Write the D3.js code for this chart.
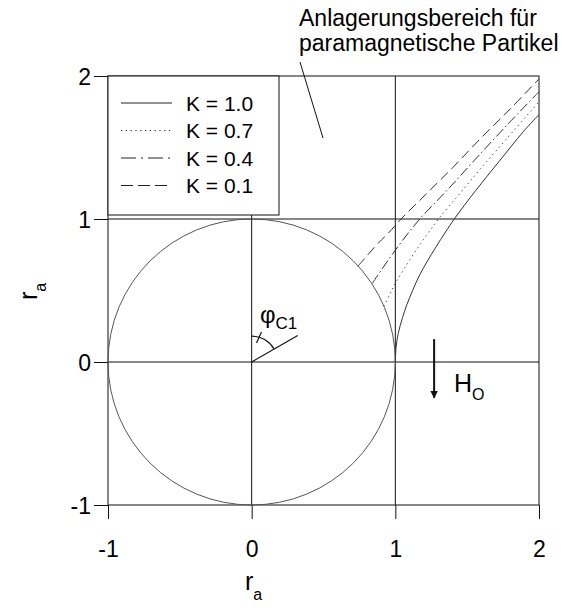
<!DOCTYPE html>
<html>
<head>
<meta charset="utf-8">
<script src="https://cdn.jsdelivr.net/npm/d3@7"></script>
<style>
  html, body { margin: 0; padding: 0; background: #fff; }
  svg { display: block; font-family: Arial, "Liberation Sans", Helvetica, sans-serif; }
</style>
</head>
<body>
<svg id="chart" width="562" height="612"></svg>
<script>
// Boundary curves of the attachment zone for several values of K
const seriesNames = ["K = 1.0", "K = 0.7", "K = 0.4", "K = 0.1"];

const curveK10 = [
  [1.00, 0.00], [1.005, 0.10], [1.02, 0.20], [1.05, 0.31], [1.08, 0.40], [1.12, 0.50],
  [1.17, 0.61], [1.22, 0.70], [1.28, 0.80], [1.35, 0.91], [1.41, 1.00], [1.56, 1.20],
  [1.72, 1.40], [1.89, 1.61], [2.00, 1.73]
];
const curveK07 = [
  [0.92, 0.39], [0.96, 0.47], [1.00, 0.55], [1.06, 0.65], [1.13, 0.76], [1.22, 0.89],
  [1.30, 1.00], [1.45, 1.18], [1.60, 1.36], [1.80, 1.59], [2.00, 1.82]
];
const curveK04 = [
  [0.84, 0.55], [0.90, 0.64], [0.97, 0.74], [1.05, 0.85], [1.17, 1.00], [1.35, 1.19],
  [1.55, 1.41], [1.78, 1.66], [2.00, 1.89]
];
const curveK01 = [
  [0.74, 0.67], [0.80, 0.74], [0.88, 0.83], [0.95, 0.90], [1.04, 1.00], [1.20, 1.16],
  [1.40, 1.36], [1.60, 1.57], [1.80, 1.77], [2.00, 1.98]
];
const curves = [curveK10, curveK07, curveK04, curveK01];
const dashes = [null, "1.2,3.6", "10,3,1.5,3", "10,5"];
const legendDashes = [null, "1.2,3.6", "15,5,2,5", "12,5"];

// Wire cross-section (unit radius) and reference grid
const wireRadius = 1;
const xTicks = [-1, 0, 1, 2];
const yTicks = [-1, 0, 1, 2];
const gridX = [0, 1];
const gridY = [0, 1];
const phiAngleDeg = 60;   // measured from the field axis

const svg = d3.select("#chart");
const pLeft = 108, pRight = 539, pTop = 76, pBottom = 505;

const x = d3.scaleLinear().domain([-1, 2]).range([pLeft, pRight]);
const y = d3.scaleLinear().domain([-1, 2]).range([pBottom, pTop]);

const ink = "#111";

// Axes with outward ticks
const xAxis = d3.axisBottom(x).tickValues(xTicks).tickSize(14).tickPadding(5)
  .tickFormat(d3.format("d"));
const yAxis = d3.axisLeft(y).tickValues(yTicks).tickSize(14).tickPadding(5)
  .tickFormat(d3.format("d"));

const gx = svg.append("g").attr("transform", `translate(0,${pBottom})`).call(xAxis);
const gy = svg.append("g").attr("transform", `translate(${pLeft},0)`).call(yAxis);
[gx, gy].forEach(g => {
  g.select(".domain").remove();
  g.selectAll(".tick line").attr("stroke", ink).attr("stroke-width", 1);
  g.selectAll(".tick text").attr("fill", "#000").attr("font-size", 23)
    .attr("font-family", "Arial, 'Liberation Sans', sans-serif");
});
gx.selectAll(".tick text").text(d => d < 0 ? "-" + Math.abs(d) : d).attr("dy", "1.43em");
gy.selectAll(".tick text").text(d => d < 0 ? "-" + Math.abs(d) : d).attr("x", -17).attr("dy", "0.36em");

// Frame
svg.append("rect")
  .attr("x", pLeft).attr("y", pTop)
  .attr("width", pRight - pLeft).attr("height", pBottom - pTop)
  .attr("fill", "none").attr("stroke", ink).attr("stroke-width", 1);

// Grid lines
svg.append("g").selectAll("line").data(gridX).join("line")
  .attr("x1", d => x(d)).attr("x2", d => x(d))
  .attr("y1", pTop).attr("y2", pBottom)
  .attr("stroke", ink).attr("stroke-width", 1);
svg.append("g").selectAll("line").data(gridY).join("line")
  .attr("x1", pLeft).attr("x2", pRight)
  .attr("y1", d => y(d)).attr("y2", d => y(d))
  .attr("stroke", ink).attr("stroke-width", 1);

// Wire circle
svg.append("ellipse")
  .attr("cx", x(0)).attr("cy", y(0))
  .attr("rx", x(wireRadius) - x(0)).attr("ry", y(0) - y(wireRadius))
  .attr("fill", "none").attr("stroke", "#555").attr("stroke-width", 1);

// Boundary curves
const line = d3.line().x(d => x(d[0])).y(d => y(d[1])).curve(d3.curveCatmullRom.alpha(0.5));
svg.append("g").selectAll("path").data(curves).join("path")
  .attr("d", line)
  .attr("fill", "none")
  .attr("stroke", "#333")
  .attr("stroke-width", 1)
  .attr("stroke-dasharray", (d, i) => dashes[i]);

// Legend
const lg = svg.append("g");
lg.append("rect")
  .attr("x", pLeft).attr("y", pTop).attr("width", 171).attr("height", 139)
  .attr("fill", "#fff").attr("stroke", ink).attr("stroke-width", 1);
seriesNames.forEach((name, i) => {
  const cy = 103 + i * 27.5;
  lg.append("line")
    .attr("x1", 121).attr("x2", 172).attr("y1", cy).attr("y2", cy)
    .attr("stroke", "#222").attr("stroke-width", 1)
    .attr("stroke-dasharray", legendDashes[i]);
  lg.append("text")
    .attr("x", 186).attr("y", cy).attr("dy", "0.36em")
    .attr("font-size", 21).attr("fill", "#000").text(name);
});

// Angle annotation phi_C1
const ox = x(0), oy = y(0);
const phi = phiAngleDeg * Math.PI / 180;
const rayLen = 0.37, arcR = 0.18;
svg.append("line")
  .attr("x1", ox).attr("y1", oy)
  .attr("x2", x(rayLen * Math.sin(phi))).attr("y2", y(rayLen * Math.cos(phi)))
  .attr("stroke", ink).attr("stroke-width", 1.2);
const arc = d3.arc()
  .innerRadius(x(arcR) - x(0)).outerRadius(x(arcR) - x(0))
  .startAngle(0).endAngle(phi);
svg.append("path")
  .attr("transform", `translate(${ox},${oy})`)
  .attr("d", arc())
  .attr("fill", "none").attr("stroke", ink).attr("stroke-width", 1.2);
svg.append("line")
  .attr("x1", 256.5).attr("y1", 343).attr("x2", 261.5).attr("y2", 332)
  .attr("stroke", ink).attr("stroke-width", 1.2);
const phiText = svg.append("text").attr("x", 260).attr("y", 323).attr("font-size", 24).attr("fill", "#000");
phiText.append("tspan").text("φ");
phiText.append("tspan").attr("dy", 6).attr("font-size", 17).text("C1");

// Field direction H0
svg.append("defs").append("marker")
  .attr("id", "arrowhead").attr("viewBox", "0 0 10 10")
  .attr("refX", 9).attr("refY", 5)
  .attr("markerWidth", 4).attr("markerHeight", 4).attr("orient", "auto")
  .append("path").attr("d", "M0,0 L10,5 L0,10 Z").attr("fill", ink);
svg.append("line")
  .attr("x1", x(1.27)).attr("x2", x(1.27))
  .attr("y1", y(0.16)).attr("y2", y(-0.25))
  .attr("stroke", ink).attr("stroke-width", 2)
  .attr("marker-end", "url(#arrowhead)");
const hText = svg.append("text").attr("x", 454).attr("y", 392).attr("font-size", 25).attr("fill", "#000");
hText.append("tspan").text("H");
hText.append("tspan").attr("dy", 8).attr("font-size", 16).text("O");

// Attachment zone annotation
const note = svg.append("text").attr("font-size", 23).attr("fill", "#000");
note.append("tspan").attr("x", 299).attr("y", 26).text("Anlagerungsbereich für");
note.append("tspan").attr("x", 299).attr("y", 51).text("paramagnetische Partikel");
svg.append("line")
  .attr("x1", 300).attr("y1", 62).attr("x2", 323).attr("y2", 138)
  .attr("stroke", ink).attr("stroke-width", 1);

// Axis titles
const xt = svg.append("text").attr("x", 245).attr("y", 590).attr("font-size", 25).attr("fill", "#000");
xt.append("tspan").text("r");
xt.append("tspan").attr("dy", 10).attr("font-size", 16).text("a");

const yt = svg.append("text").attr("transform", "translate(37,300) rotate(-90)")
  .attr("font-size", 25).attr("fill", "#000");
yt.append("tspan").text("r");
yt.append("tspan").attr("dy", 9).attr("font-size", 16).text("a");
</script>
</body>
</html>
